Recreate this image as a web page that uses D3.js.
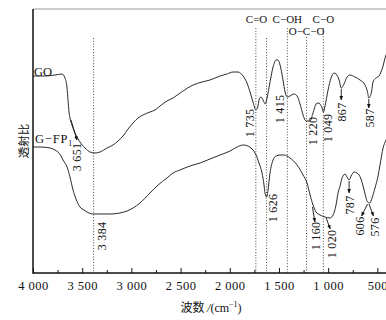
<!DOCTYPE html>
<html><head><meta charset="utf-8">
<script src="https://cdn.jsdelivr.net/npm/d3@7"></script>
<style>body{margin:0;background:#fff}svg{display:block}</style>
</head><body><svg id="c" width="386" height="320"></svg>
<script>
// ---- data ----
const goWavenumber = [4000,3878,3776,3705,3675,3654,3644,3634,3624,3604,3573,3522,3471,3421,3370,3319,3248,3187,3136,3085,3034,2983,2933,2882,2811,2760,2709,2638,2577,2475,2374,2282,2201,2099,2028,1967,1916,1865,1825,1794,1764,1735,1718,1700,1682,1662,1640,1621,1591,1560,1530,1510,1489,1459,1438,1415,1388,1347,1316,1286,1255,1235,1220,1184,1154,1123,1103,1083,1062,1049,1032,1001,971,940,920,889,867,839,808,778,727,676,625,600,587,560,544,513,483,463,442,422,400];
const goTransmittance = [197,197,198,199,195,185,173,161,155,148,140,131,125,121,120,121,125,128,132,137,144,150,155,158,161,163,167,172,175,182,188,191,193,197,199,201,201,197,190,181,171,163,165,174,176,173,169,175,191,206,213,213,208,193,181,176,177,179,177,169,158,153,152,152,160,169,170,169,165,161,167,183,195,200,199,193,185,189,196,198,196,193,188,181,175,181,191,195,197,201,207,215,221];
const gfpWavenumber = [4000,3929,3827,3776,3746,3715,3695,3654,3624,3593,3563,3522,3482,3451,3390,3319,3217,3116,3044,2983,2912,2811,2729,2638,2577,2506,2404,2302,2201,2099,1997,1926,1865,1815,1774,1733,1703,1672,1652,1642,1626,1621,1611,1591,1560,1530,1489,1449,1388,1316,1255,1215,1184,1154,1123,1083,1032,981,950,920,900,879,859,828,808,787,767,737,707,666,635,615,600,576,554,524,493,473,442,412,400];
const gfpTransmittance = [126,126,125,123,121,117,113,106,96,83,74,66,63,61,59,59,59,60,62,65,70,80,88,95,100,103,107,110,114,118,122,126,128,127,124,118,110,100,88,80,76,77,83,100,113,117,118,118,115,108,98,90,78,68,61,58,56,55,58,68,80,87,95,99,96,93,97,101,100,94,83,75,71,70,75,85,97,108,125,133,136];
const seriesNames = ["GO", "G−FP"];
const xTickValues = [4000,3500,3000,2500,2000,1500,1000,500];
const xTickLabels = ["4 000","3 500","3 000","2 500","2 000","1 500","1 000","500"];
const xMinorTicks = [3750,3250,2750,2250,1750,1250,750];
const refLines = [3384,1735,1626,1415,1220,1049];
const groupLabels = ["C=O","C−OH","O−C−O","C−O"];
const groupWavenumbers = [1735,1415,1220,1049];
const peakLabels = ["3 651","3 384","1 735","1 415","1 220","1 049","867","587","1 626","1 160","1 020","787","606","576"];
const peakWavenumbers = [3651,3384,1735,1415,1220,1049,867,587,1626,1160,1020,787,606,576];
// arrows: start on curve (wavenumber, transmittance)
const arrowWavenumbers = [3614,867,587,787,600,585,1160,1020];
const arrowTransmittance = [153,184,174,92,69,69,66,55];

// ---- layout ----
const L = 33, T = 9, B = 273, R = 387.2, W = 386;
const serif = "'Liberation Serif','Times New Roman',serif";
const refTop = [38,28,38,28,37,28];
const peakDx = [10,8.5,-6,-7.5,6.5,5,1,1.5,6.5,3.5,5.7,1,-7,5];
const peakCy = [157,236,123,109,131,128,112,118,208,236,244,205,226,227];
const groupDx = [0.7,0,0,0];
const groupBaseY = [23,23,35,23];
const arrowDx = [6,0,0,0,-6,4.5,2.5,4];
const arrowDy = [20,11,9,12,12,12,15,11];

const svg = d3.select("#c");
const x = d3.scaleLinear().domain([4000,400]).range([L,R]);
const y = d3.scaleLinear().domain([0,264]).range([B,T]);

svg.append("defs").append("marker").attr("id","ah")
  .attr("viewBox","0 0 10 10").attr("refX",9).attr("refY",5)
  .attr("markerWidth",5).attr("markerHeight",5).attr("orient","auto")
  .append("path").attr("d","M0,1L10,5L0,9Z").attr("fill","#111");

// frame
svg.append("line").attr("x1",L).attr("x2",W).attr("y1",T).attr("y2",T)
  .attr("stroke","#9a9a9a").attr("stroke-width",1);

// reference dotted lines
svg.append("g").selectAll("line").data(refLines).join("line")
  .attr("x1",d=>x(d)).attr("x2",d=>x(d))
  .attr("y1",(d,i)=>refTop[i]).attr("y2",B)
  .attr("stroke","#333").attr("stroke-width",0.9).attr("stroke-dasharray","1,1.8");

// curves
const line = d3.line().x(d=>x(d[0])).y(d=>y(d[1])).curve(d3.curveMonotoneX);
const goData = goWavenumber.map((w,i)=>[w,goTransmittance[i]]);
const gfpData = gfpWavenumber.map((w,i)=>[w,gfpTransmittance[i]]);
const clip = svg.append("clipPath").attr("id","cp").append("rect")
  .attr("x",L).attr("y",T).attr("width",W-L).attr("height",B-T);
[goData,gfpData].forEach(d=>{
  svg.append("path").datum(d).attr("d",line).attr("fill","none")
    .attr("stroke","#2b2b2b").attr("stroke-width",1).attr("clip-path","url(#cp)");
});

// axes
const xAxis = d3.axisBottom(x).tickValues(xTickValues).tickSizeInner(-5).tickSizeOuter(0)
  .tickPadding(8).tickFormat((d,i)=>xTickLabels[i]);
const gx = svg.append("g").attr("transform",`translate(0,${B})`).call(xAxis);
gx.select(".domain").remove();
gx.selectAll(".tick line").attr("stroke","#111").attr("stroke-width",1);
gx.selectAll(".tick text").attr("font-family",serif).attr("font-size",12.5)
  .attr("fill","#111").attr("letter-spacing",0.5);
const gm = svg.append("g").attr("transform",`translate(0,${B})`)
  .call(d3.axisBottom(x).tickValues(xMinorTicks).tickSizeInner(-3).tickSizeOuter(0).tickFormat(""));
gm.select(".domain").remove();
gm.selectAll(".tick line").attr("stroke","#111");
svg.append("line").attr("x1",L).attr("x2",W).attr("y1",B).attr("y2",B)
  .attr("stroke","#111").attr("stroke-width",1.5);
svg.append("line").attr("x1",L).attr("x2",L).attr("y1",T).attr("y2",B+0.75)
  .attr("stroke","#111").attr("stroke-width",1.5);

// axis titles
const xt = svg.append("text").attr("x",211).attr("y",312).attr("text-anchor","middle")
  .attr("font-size",12).attr("fill","#111");
xt.append("tspan").attr("font-family","'Noto Sans CJK SC'").text("波数 ");
xt.append("tspan").attr("font-family",serif).attr("font-style","italic").text("/");
xt.append("tspan").attr("font-family",serif).text("(cm");
xt.append("tspan").attr("font-family",serif).attr("font-size",8).attr("dy",-5).text("−1");
xt.append("tspan").attr("font-family",serif).attr("dy",5).text(")");
svg.append("text").attr("transform","translate(23,141) rotate(-90)")
  .attr("text-anchor","middle").attr("dominant-baseline","central")
  .attr("font-family","'Noto Sans CJK SC'").attr("font-size",11.5).attr("fill","#111").text("透射比");

// series labels
svg.append("text").attr("x",34).attr("y",75.5).attr("font-family",serif)
  .attr("font-size",12.5).attr("fill","#111").text(seriesNames[0]);
const gl = svg.append("text").attr("x",35).attr("y",143).attr("font-family",serif)
  .attr("font-size",12.5).attr("fill","#111").attr("letter-spacing",0.8);
gl.append("tspan").text(seriesNames[1]);
gl.append("tspan").attr("font-size",8).attr("dy",3).text("1");

// group labels
svg.append("g").selectAll("text").data(groupLabels).join("text")
  .attr("x",(d,i)=>x(groupWavenumbers[i])+groupDx[i]).attr("y",(d,i)=>groupBaseY[i])
  .attr("text-anchor","middle").attr("font-family",serif).attr("font-size",11)
  .attr("fill","#111").text(d=>d);

// peak labels
svg.append("g").selectAll("text").data(peakLabels).join("text")
  .attr("transform",(d,i)=>`translate(${x(peakWavenumbers[i])+peakDx[i]},${peakCy[i]}) rotate(-90)`)
  .attr("text-anchor","middle").attr("dominant-baseline","central")
  .attr("font-family",serif).attr("font-size",12).attr("letter-spacing",0.3)
  .attr("fill","#111").text(d=>d);

// arrows
svg.append("g").selectAll("line").data(arrowWavenumbers).join("line")
  .attr("x1",(d,i)=>x(d)).attr("y1",(d,i)=>y(arrowTransmittance[i]))
  .attr("x2",(d,i)=>x(d)+arrowDx[i]).attr("y2",(d,i)=>y(arrowTransmittance[i])+arrowDy[i])
  .attr("stroke","#111").attr("stroke-width",0.9).attr("marker-end","url(#ah)");
</script></body></html>
